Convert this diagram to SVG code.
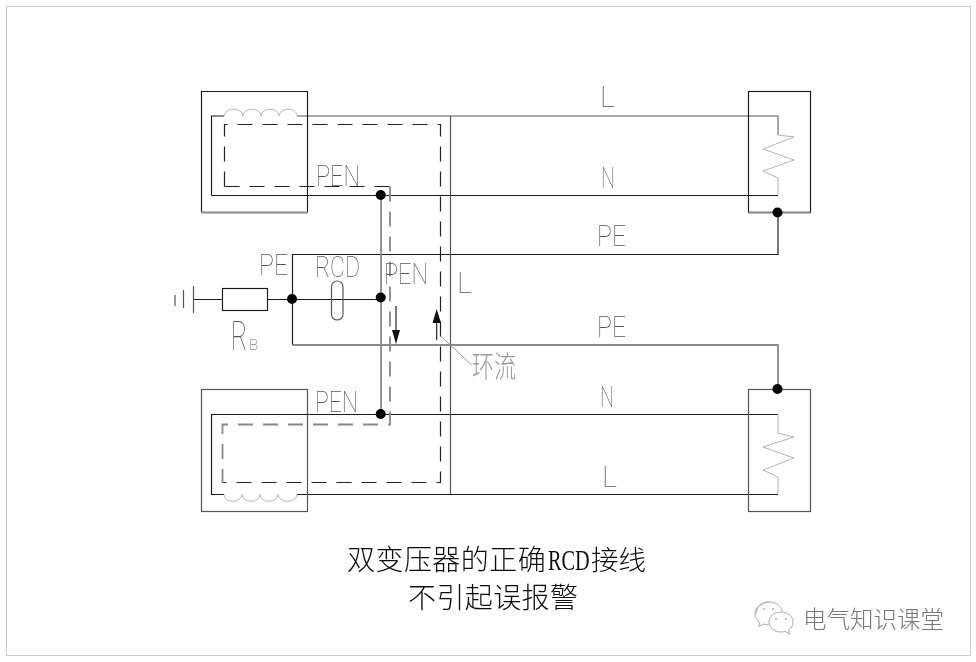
<svg xmlns="http://www.w3.org/2000/svg" width="976" height="662" viewBox="0 0 976 662">
<style>
.k{fill:none;stroke:#1a1a1a;stroke-width:1.15}
.g{fill:none;stroke:#8a8a8a;stroke-width:1.8}
.m{fill:none;stroke:#555;stroke-width:1.2}
.c{fill:none;stroke:#b5b5b5;stroke-width:1}
.l{fill:none;stroke:#999;stroke-width:1}
.dk{fill:none;stroke:#222;stroke-width:1.2;stroke-dasharray:15 10}
.dg{fill:none;stroke:#888;stroke-width:1.8;stroke-dasharray:15 10}
.d{fill:#000}
.t{font-family:Roboto,"Liberation Sans",sans-serif;font-weight:100;fill:#555;filter:url(#soft)}
.z{font-family:"Noto Sans CJK SC",sans-serif;font-weight:300;fill:#999;filter:url(#soft)}
.cap{font-family:"Noto Sans CJK SC",sans-serif;font-size:28px;font-weight:300;fill:#111;filter:url(#soft)}
.capl{font-family:"Liberation Serif",serif;font-size:29px;fill:#111;filter:url(#soft)}
.w{font-family:"Noto Sans CJK SC",sans-serif;font-size:23.500px;font-weight:300;fill:#777;filter:url(#soft)}
</style>
<defs>
<filter id="soft" x="-10%" y="-10%" width="120%" height="120%"><feGaussianBlur stdDeviation="0.25"/></filter>
<path id="coil" d="M0 0c1-9 18-9 19 0c1-9 17-9 18 0c1-9 17-9 18 0c1-9 18-9 18 0"/>
</defs>
<rect x="6.500" y="6.500" width="964" height="649" fill="#fff" stroke="#ccc" stroke-width="1"/>
<g id="connectors">
<path class="m" d="M297 116H778V135"/>
<path class="k" d="M211.500 195.500H778"/>
<path class="k" d="M292.500 345V254.500H778V213"/>
<path class="g" d="M292.500 345H778V389"/>
<path class="k" d="M193 299.500H222M267.500 299.500H381"/>
<path class="g" d="M381 195V414"/>
<path class="k" d="M381 414.500H778"/>
<path class="k" d="M297 494.500H778"/>
<path class="m" d="M450.500 116V494"/>
<path class="dk" d="M224.500 186.500V124.500H440.500V482.500H222.500"/>
<path class="dk" d="M224.500 186.500H390"/>
<path class="dg" d="M390 186.500V424.500H222.500V482.500"/>
<path class="k" d="M396 306V332M436.700 340V320"/>
<path d="M392 330H400L396 344Z M436.700 309L441 323H432.500Z" fill="#111"/>
<path class="l" d="M440.700 336L471.700 365"/>
</g>
<g id="transformer-top">
<path class="k" d="M307.500 212.500V91.500H201.500V212.500"/>
<path class="g" d="M201.500 212.500H307.500"/>
<path class="k" d="M224 116H211.500V195.500"/>
<use href="#coil" x="224" y="116" class="c"/>
<text class="t" x="316" y="186" font-size="29" textLength="44" lengthAdjust="spacingAndGlyphs">PEN</text>
</g>
<g id="transformer-bottom">
<rect class="m" x="201.500" y="389.500" width="106" height="122"/>
<path class="k" d="M224 494.500H211.500V414.500H381"/>
<use href="#coil" transform="translate(297 494.500) rotate(180)" class="c"/>
<text class="t" x="315" y="412" font-size="29" textLength="43" lengthAdjust="spacingAndGlyphs">PEN</text>
</g>
<g id="load-top">
<rect class="k" x="748.500" y="91.500" width="62" height="121"/>
<path class="g" d="M748.500 212.500H810.500"/>
<path class="c" d="M778 116V135L794 137L763 149L794 160L763 171L778 178V195"/>
<text class="t" x="600" y="107" font-size="29">L</text>
<text class="t" x="601" y="188" font-size="29" textLength="14" lengthAdjust="spacingAndGlyphs">N</text>
<text class="t" x="597" y="246" font-size="29" textLength="29" lengthAdjust="spacingAndGlyphs">PE</text>
</g>
<g id="load-bottom">
<rect class="m" x="748.500" y="389.500" width="62" height="122"/>
<path class="c" d="M778 414V433L794 437L763 447L794 458L763 470L778 477V494"/>
<text class="t" x="597" y="337" font-size="29" textLength="29" lengthAdjust="spacingAndGlyphs">PE</text>
<text class="t" x="600" y="407" font-size="29" textLength="14" lengthAdjust="spacingAndGlyphs">N</text>
<text class="t" x="602" y="487" font-size="29">L</text>
</g>
<g id="ground">
<path class="m" d="M175 295V306M183.500 290V308M193.500 286V313"/>
</g>
<g id="resistor-rb">
<rect class="k" x="222.500" y="288.500" width="45" height="22"/>
<text class="t" font-size="40" transform="translate(231 350) scale(.62 1)">R</text>
<text class="t" x="249" y="350" font-size="15">B</text>
</g>
<g id="rcd">
<rect class="m" x="331.500" y="281" width="11.500" height="39" rx="5.700"/>
<text class="t" x="315" y="277" font-size="29" textLength="45" lengthAdjust="spacingAndGlyphs">RCD</text>
</g>
<g id="labels">
<text class="t" x="259" y="275" font-size="29" textLength="29" lengthAdjust="spacingAndGlyphs">PE</text>
<text class="t" x="384" y="284" font-size="29" textLength="44" lengthAdjust="spacingAndGlyphs">PEN</text>
<text class="t" x="457" y="293" font-size="29">L</text>
<text class="z" font-size="22" transform="translate(472 377) scale(1 1.35)">环流</text>
</g>
<g id="junctions">
<circle class="d" cx="380.700" cy="195" r="5"/>
<circle class="d" cx="292" cy="299" r="5"/>
<circle class="d" cx="380.700" cy="297.500" r="5"/>
<circle class="d" cx="380.700" cy="414" r="5"/>
<circle class="d" cx="777.500" cy="212.500" r="5"/>
<circle class="d" cx="777.500" cy="389" r="5"/>
</g>
<g id="caption">
<text class="cap" x="347" y="570" letter-spacing=".45">双变压器的正确</text>
<text class="capl" transform="translate(548 570) scale(.7 1)">RCD</text>
<text class="cap" x="591" y="570" style="font-size:27.500px">接线</text>
<text class="cap" x="408" y="608" letter-spacing=".4">不引起误报警</text>
</g>
<g id="watermark">
<path d="M769 602c-8 0-14 5.500-14 12c0 3.500 2 6.500 5 8.500l-1.500 4l5-2.500c2 .6 3 .8 5 .8" fill="#fff" stroke="#aaa" stroke-width="1"/>
<path d="M756 614c0-6.500 6-12 13-12c7 0 12 4 13.500 9" fill="none" stroke="#aaa" stroke-width="1"/>
<circle cx="764" cy="609" r="1" fill="#aaa"/><circle cx="773" cy="609" r="1" fill="#aaa"/>
<path d="M781 612c-7 0-12 4.500-12 10c0 5.500 5 10 12 10c1.500 0 3-.2 4-.6l4.500 2.600l-1-4c3-2 4.500-5 4.500-8c0-5.500-5-10-12-10Z" fill="#fff" stroke="#aaa" stroke-width="1"/>
<circle cx="776" cy="619" r="1" fill="#aaa"/><circle cx="786" cy="619" r="1" fill="#aaa"/>
<text class="w" x="803" y="628">电气知识课堂</text>
</g>
</svg>
